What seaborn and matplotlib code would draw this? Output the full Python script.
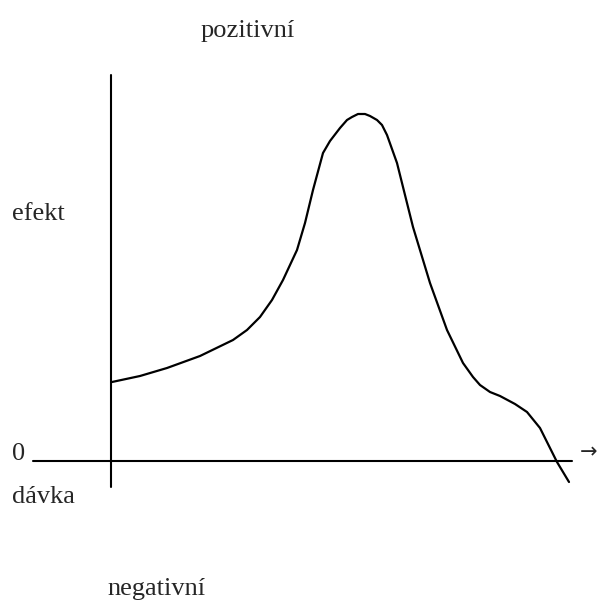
import matplotlib
matplotlib.use("Agg")
import matplotlib.pyplot as plt
import seaborn as sns
import pandas as pd

# dose–effect curve (dose along x, effect along y, 0 = baseline)
dose = [1, 29, 56, 89, 122, 136, 149, 161, 172, 186, 194, 202, 212, 219, 229,
        236, 241, 247, 254, 259, 266, 271, 276, 286, 302, 319, 336, 352, 362,
        369, 379, 389, 404, 416, 429, 446, 458]
effect = [79, 85, 93, 105, 121, 131, 144, 161, 181, 211, 238, 271, 308, 320,
          333, 341, 344, 347, 347, 345, 341, 336, 326, 298, 234, 178, 131, 98,
          84, 76, 69, 65, 57, 49, 33, -1, -21]

label_top = "pozitivní"
label_bottom = "negativní"
label_y = "efekt"
label_zero = "0"
label_x = "dávka"
arrow = "→"

df = pd.DataFrame({"dose": dose, "effect": effect})

sns.set_theme(style="white")
plt.rcParams["font.family"] = ["Liberation Serif", "DejaVu Serif"]

fig = plt.figure(figsize=(6.01, 6.01), dpi=100)
ax = fig.add_axes([0, 0, 1, 1])
ax.set_xlim(-111, 490)
ax.set_ylim(-140, 461)
ax.axis("off")

# axes drawn by hand
ax.plot([0, 0], [-26, 386], color="black", lw=1.5)
ax.plot([-78, 461], [0, 0], color="black", lw=1.5)

sns.lineplot(data=df, x="dose", y="effect", sort=False, color="black",
             lw=1.6, ax=ax, solid_joinstyle="round", solid_capstyle="round")

fs = 19
ax.text(90, 424, label_top, fontsize=fs, ha="left", va="baseline")
ax.text(-4, -134, label_bottom, fontsize=fs, ha="left", va="baseline")
ax.text(-99, 241, label_y, fontsize=fs, ha="left", va="baseline")
ax.text(-99, 1, label_zero, fontsize=fs, ha="left", va="baseline")
ax.text(-99, -42, label_x, fontsize=fs, ha="left", va="baseline")
ax.text(469, 9, arrow, fontsize=15, ha="left", va="center",
        family=["DejaVu Sans"])

fig.savefig("out.png", dpi=100)
